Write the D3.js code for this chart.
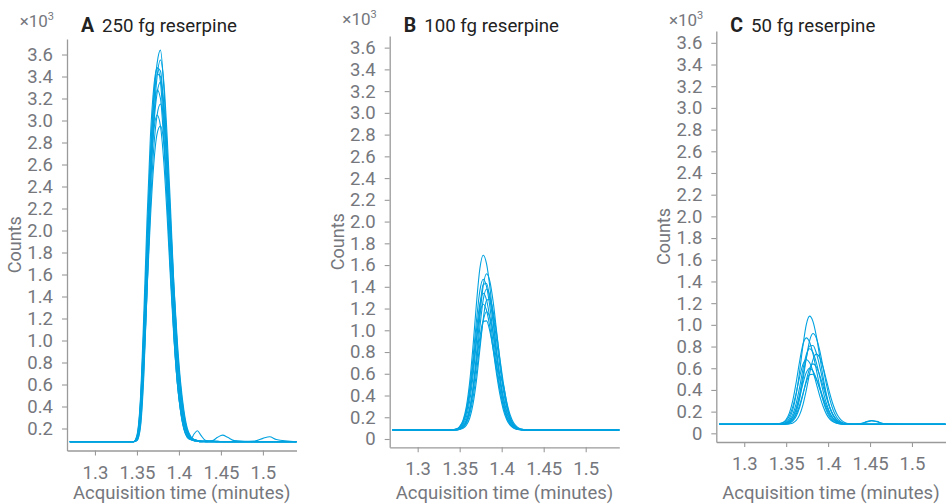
<!DOCTYPE html>
<html lang="en">
<head>
    <script src="https://d3js.org/d3.v7.min.js"></script>
</head>
<style>
    body { margin: 0; background: #fff; }
    text { font-family: Roboto, "Noto Sans", sans-serif; }
</style>
<body>
        <script>
            // chart size
            const w = 946
            const h = 504

            // acquisition times (minutes), shared by every trace
            const times = [1.270, 1.300, 1.330, 1.340,
                1.346, 1.350, 1.354, 1.358, 1.362, 1.366, 1.370, 1.374, 1.378, 1.382, 1.386,
                1.390, 1.394, 1.398, 1.402, 1.406, 1.410, 1.414, 1.418, 1.422, 1.426,
                1.432, 1.440, 1.446, 1.452, 1.458, 1.466, 1.490, 1.500, 1.508, 1.516, 1.540]

            // counts (x10^3) for the replicate injections, 250 fg
            const traces250 = [
                [0.08, 0.08, 0.08, 0.08, 0.08, 0.10, 0.28, 0.85, 1.75, 2.60, 3.20, 3.52, 3.64, 3.30, 2.70, 2.00, 1.30, 0.78, 0.44, 0.24, 0.14, 0.10, 0.09, 0.085, 0.08, 0.08, 0.085, 0.085, 0.08, 0.08, 0.08, 0.08, 0.08, 0.08, 0.08, 0.08],
                [0.08, 0.08, 0.08, 0.08, 0.08, 0.09, 0.20, 0.65, 1.45, 2.35, 3.00, 3.40, 3.55, 3.35, 2.85, 2.20, 1.50, 0.92, 0.52, 0.28, 0.16, 0.11, 0.09, 0.085, 0.08, 0.085, 0.09, 0.12, 0.14, 0.12, 0.09, 0.08, 0.08, 0.08, 0.08, 0.08],
                [0.08, 0.08, 0.08, 0.08, 0.08, 0.14, 0.45, 1.20, 2.10, 2.85, 3.30, 3.48, 3.35, 2.90, 2.30, 1.65, 1.05, 0.62, 0.36, 0.20, 0.12, 0.10, 0.15, 0.18, 0.14, 0.09, 0.085, 0.08, 0.08, 0.08, 0.08, 0.08, 0.08, 0.08, 0.08, 0.08],
                [0.08, 0.08, 0.08, 0.08, 0.08, 0.12, 0.40, 1.05, 1.90, 2.65, 3.15, 3.42, 3.40, 3.05, 2.50, 1.85, 1.22, 0.75, 0.45, 0.26, 0.16, 0.11, 0.095, 0.09, 0.085, 0.085, 0.08, 0.08, 0.08, 0.08, 0.08, 0.08, 0.08, 0.08, 0.08, 0.08],
                [0.08, 0.08, 0.08, 0.08, 0.08, 0.10, 0.30, 0.90, 1.70, 2.45, 2.95, 3.25, 3.35, 3.15, 2.70, 2.10, 1.50, 1.00, 0.62, 0.36, 0.20, 0.13, 0.10, 0.09, 0.085, 0.085, 0.085, 0.08, 0.08, 0.08, 0.08, 0.085, 0.11, 0.125, 0.10, 0.08],
                [0.08, 0.08, 0.08, 0.08, 0.08, 0.11, 0.35, 0.98, 1.80, 2.55, 3.02, 3.28, 3.20, 2.80, 2.25, 1.62, 1.05, 0.62, 0.35, 0.19, 0.12, 0.10, 0.09, 0.085, 0.08, 0.08, 0.08, 0.08, 0.08, 0.08, 0.08, 0.08, 0.08, 0.08, 0.08, 0.08],
                [0.08, 0.08, 0.08, 0.08, 0.08, 0.09, 0.22, 0.70, 1.45, 2.20, 2.75, 3.05, 3.15, 3.00, 2.60, 2.05, 1.45, 0.95, 0.58, 0.33, 0.18, 0.12, 0.10, 0.09, 0.085, 0.08, 0.08, 0.08, 0.08, 0.08, 0.08, 0.08, 0.08, 0.08, 0.08, 0.08],
                [0.08, 0.08, 0.08, 0.08, 0.08, 0.13, 0.42, 1.08, 1.85, 2.50, 2.90, 3.05, 2.95, 2.62, 2.12, 1.55, 1.02, 0.62, 0.36, 0.20, 0.13, 0.10, 0.09, 0.085, 0.08, 0.08, 0.08, 0.08, 0.08, 0.08, 0.08, 0.08, 0.08, 0.08, 0.08, 0.08],
                [0.08, 0.08, 0.08, 0.08, 0.08, 0.10, 0.26, 0.75, 1.45, 2.10, 2.60, 2.88, 2.95, 2.80, 2.40, 1.90, 1.35, 0.88, 0.54, 0.31, 0.18, 0.12, 0.10, 0.09, 0.085, 0.08, 0.08, 0.08, 0.08, 0.08, 0.08, 0.08, 0.08, 0.08, 0.08, 0.08],
                [0.08, 0.08, 0.08, 0.08, 0.08, 0.11, 0.36, 1.00, 1.85, 2.65, 3.20, 3.48, 3.45, 3.10, 2.52, 1.86, 1.22, 0.74, 0.43, 0.24, 0.15, 0.11, 0.10, 0.09, 0.085, 0.08, 0.08, 0.08, 0.08, 0.08, 0.08, 0.08, 0.08, 0.08, 0.08, 0.08]
            ]

            // 100 fg
            const traces100 = [
                [0.083, 0.083, 0.083, 0.085, 0.09, 0.115, 0.173, 0.30, 0.53, 0.866, 1.25, 1.566, 1.69, 1.61, 1.393, 1.095, 0.79, 0.53, 0.337, 0.213, 0.144, 0.109, 0.09, 0.085, 0.083, 0.083, 0.083, 0.083, 0.083, 0.083, 0.083, 0.083, 0.083, 0.083, 0.083, 0.083],
                [0.083, 0.083, 0.083, 0.083, 0.084, 0.092, 0.112, 0.163, 0.277, 0.483, 0.783, 1.126, 1.41, 1.52, 1.448, 1.254, 0.988, 0.715, 0.483, 0.31, 0.20, 0.138, 0.106, 0.092, 0.086, 0.083, 0.083, 0.083, 0.083, 0.083, 0.083, 0.083, 0.083, 0.083, 0.083, 0.083],
                [0.083, 0.083, 0.083, 0.085, 0.091, 0.111, 0.161, 0.27, 0.469, 0.758, 1.09, 1.363, 1.47, 1.401, 1.213, 0.957, 0.693, 0.469, 0.302, 0.195, 0.136, 0.105, 0.091, 0.086, 0.083, 0.083, 0.083, 0.083, 0.083, 0.083, 0.083, 0.083, 0.083, 0.083, 0.083, 0.083],
                [0.083, 0.083, 0.083, 0.084, 0.088, 0.099, 0.131, 0.204, 0.352, 0.588, 0.90, 1.208, 1.42, 1.43, 1.282, 1.061, 0.802, 0.561, 0.369, 0.238, 0.158, 0.117, 0.096, 0.088, 0.084, 0.083, 0.083, 0.083, 0.083, 0.083, 0.083, 0.083, 0.083, 0.083, 0.083, 0.083],
                [0.083, 0.083, 0.083, 0.083, 0.083, 0.091, 0.109, 0.156, 0.258, 0.444, 0.715, 1.025, 1.28, 1.38, 1.315, 1.14, 0.90, 0.654, 0.444, 0.288, 0.188, 0.132, 0.104, 0.091, 0.086, 0.083, 0.083, 0.083, 0.083, 0.083, 0.083, 0.083, 0.083, 0.083, 0.083, 0.083],
                [0.083, 0.083, 0.083, 0.085, 0.091, 0.108, 0.153, 0.253, 0.432, 0.695, 1.00, 1.243, 1.34, 1.277, 1.107, 0.875, 0.66, 0.58, 0.50, 0.33, 0.19, 0.12, 0.095, 0.087, 0.083, 0.083, 0.083, 0.083, 0.083, 0.083, 0.083, 0.083, 0.083, 0.083, 0.083, 0.083],
                [0.083, 0.083, 0.083, 0.083, 0.084, 0.088, 0.098, 0.127, 0.193, 0.326, 0.539, 0.822, 1.099, 1.276, 1.284, 1.166, 0.967, 0.733, 0.515, 0.341, 0.223, 0.151, 0.113, 0.095, 0.088, 0.084, 0.083, 0.083, 0.083, 0.083, 0.083, 0.083, 0.083, 0.083, 0.083, 0.083],
                [0.083, 0.083, 0.083, 0.085, 0.09, 0.106, 0.148, 0.239, 0.405, 0.646, 0.923, 1.151, 1.24, 1.182, 1.026, 0.812, 0.592, 0.405, 0.266, 0.177, 0.127, 0.102, 0.09, 0.085, 0.083, 0.083, 0.083, 0.083, 0.083, 0.083, 0.083, 0.083, 0.083, 0.083, 0.083, 0.083],
                [0.083, 0.083, 0.083, 0.083, 0.084, 0.09, 0.105, 0.144, 0.229, 0.385, 0.612, 0.872, 1.086, 1.17, 1.116, 0.969, 0.769, 0.561, 0.385, 0.255, 0.171, 0.124, 0.10, 0.088, 0.085, 0.083, 0.083, 0.083, 0.083, 0.083, 0.083, 0.083, 0.083, 0.083, 0.083, 0.083],
                [0.083, 0.083, 0.083, 0.084, 0.087, 0.095, 0.12, 0.175, 0.286, 0.464, 0.70, 0.932, 1.08, 1.087, 0.988, 0.821, 0.626, 0.444, 0.299, 0.20, 0.14, 0.108, 0.093, 0.087, 0.084, 0.083, 0.083, 0.083, 0.083, 0.083, 0.083, 0.083, 0.083, 0.083, 0.083, 0.083]
            ]

            // 50 fg
            const traces50 = [
                [0.083, 0.083, 0.085, 0.087, 0.089, 0.103, 0.139, 0.218, 0.36, 0.569, 0.807, 1.003, 1.08, 1.03, 0.896, 0.711, 0.522, 0.36, 0.241, 0.164, 0.121, 0.099, 0.089, 0.085, 0.083, 0.083, 0.083, 0.083, 0.083, 0.083, 0.083, 0.083, 0.083, 0.083, 0.083, 0.083],
                [0.083, 0.083, 0.083, 0.083, 0.083, 0.088, 0.10, 0.13, 0.196, 0.316, 0.491, 0.691, 0.855, 0.92, 0.878, 0.765, 0.611, 0.451, 0.316, 0.215, 0.151, 0.115, 0.096, 0.088, 0.085, 0.084, 0.09, 0.105, 0.115, 0.108, 0.09, 0.083, 0.083, 0.083, 0.083, 0.083],
                [0.083, 0.083, 0.086, 0.088, 0.099, 0.128, 0.191, 0.305, 0.471, 0.662, 0.819, 0.88, 0.84, 0.733, 0.585, 0.434, 0.305, 0.209, 0.148, 0.113, 0.096, 0.088, 0.085, 0.083, 0.083, 0.083, 0.083, 0.083, 0.083, 0.083, 0.083, 0.083, 0.083, 0.083, 0.083, 0.083],
                [0.083, 0.083, 0.083, 0.084, 0.086, 0.092, 0.11, 0.149, 0.23, 0.359, 0.53, 0.698, 0.805, 0.81, 0.739, 0.618, 0.477, 0.345, 0.239, 0.168, 0.124, 0.101, 0.09, 0.086, 0.084, 0.083, 0.083, 0.083, 0.083, 0.083, 0.083, 0.083, 0.083, 0.083, 0.083, 0.083],
                [0.083, 0.083, 0.084, 0.085, 0.087, 0.097, 0.122, 0.177, 0.277, 0.422, 0.589, 0.726, 0.78, 0.745, 0.651, 0.522, 0.39, 0.277, 0.193, 0.139, 0.109, 0.094, 0.087, 0.084, 0.083, 0.085, 0.092, 0.108, 0.118, 0.11, 0.09, 0.083, 0.083, 0.083, 0.083, 0.083],
                [0.083, 0.083, 0.083, 0.083, 0.083, 0.083, 0.087, 0.096, 0.119, 0.17, 0.263, 0.398, 0.553, 0.68, 0.73, 0.698, 0.61, 0.491, 0.368, 0.263, 0.185, 0.135, 0.108, 0.093, 0.087, 0.084, 0.083, 0.083, 0.083, 0.083, 0.083, 0.083, 0.083, 0.083, 0.083, 0.083],
                [0.083, 0.083, 0.085, 0.087, 0.095, 0.116, 0.164, 0.249, 0.374, 0.516, 0.634, 0.68, 0.65, 0.57, 0.459, 0.346, 0.249, 0.177, 0.131, 0.106, 0.093, 0.087, 0.084, 0.083, 0.083, 0.083, 0.083, 0.083, 0.083, 0.083, 0.083, 0.083, 0.083, 0.083, 0.083, 0.083],
                [0.083, 0.083, 0.083, 0.083, 0.083, 0.086, 0.094, 0.114, 0.157, 0.238, 0.354, 0.488, 0.597, 0.64, 0.612, 0.537, 0.434, 0.329, 0.238, 0.171, 0.128, 0.104, 0.092, 0.086, 0.084, 0.083, 0.083, 0.083, 0.083, 0.083, 0.083, 0.083, 0.083, 0.083, 0.083, 0.083],
                [0.083, 0.083, 0.084, 0.085, 0.086, 0.093, 0.112, 0.153, 0.227, 0.335, 0.458, 0.56, 0.60, 0.574, 0.504, 0.409, 0.31, 0.227, 0.165, 0.125, 0.103, 0.091, 0.086, 0.084, 0.083, 0.083, 0.083, 0.083, 0.083, 0.083, 0.083, 0.083, 0.083, 0.083, 0.083, 0.083],
                [0.083, 0.083, 0.083, 0.084, 0.085, 0.089, 0.10, 0.125, 0.176, 0.258, 0.366, 0.473, 0.541, 0.544, 0.499, 0.422, 0.332, 0.249, 0.182, 0.137, 0.109, 0.095, 0.088, 0.085, 0.083, 0.083, 0.083, 0.083, 0.083, 0.083, 0.083, 0.083, 0.083, 0.083, 0.083, 0.083]
            ]

            // tick labels
            const xTicks = [1.3, 1.35, 1.4, 1.45, 1.5]
            const yTicksA = [0.2, 0.4, 0.6, 0.8, 1.0, 1.2, 1.4, 1.6, 1.8, 2.0, 2.2, 2.4, 2.6, 2.8, 3.0, 3.2, 3.4, 3.6]
            const yTicksBC = [0, 0.2, 0.4, 0.6, 0.8, 1.0, 1.2, 1.4, 1.6, 1.8, 2.0, 2.2, 2.4, 2.6, 2.8, 3.0, 3.2, 3.4, 3.6]

            const letters = ["A", "B", "C"]
            const titles = ["250 fg reserpine", "100 fg reserpine", "50 fg reserpine"]

            // panel layout (pixels) and axis ranges
            const panels = [
                {traces: traces250, ticks: yTicksA,  left: 67,    right: 296.5, top: 39, bottom: 450.5, ymin: 0,       ymax: 3.741, expY: 26.5},
                {traces: traces100, ticks: yTicksBC, left: 389.7, right: 619.3, top: 36, bottom: 447.3, ymin: -0.0764, ymax: 3.707, expY: 25},
                {traces: traces50,  ticks: yTicksBC, left: 716.3, right: 945.5, top: 31, bottom: 442,   ymin: -0.080,  ymax: 3.709, expY: 26}
            ]

            const lineColor = "#00a2e0"
            const axisColor = "#9a9a9a"
            const labelColor = "#75777d"

            let svg = d3.select("body")
                .append("svg")
                .attr("width", w)
                .attr("height", h)

            panels.forEach((p, i) => {
                let g = svg.append("g")

                let xScale = d3.scaleLinear()
                    .domain([1.2667, 1.54])
                    .range([p.left, p.right])

                let yScale = d3.scaleLinear()
                    .domain([p.ymin, p.ymax])
                    .range([p.bottom, p.top])

                let line = d3.line()
                    .x((d, j) => xScale(times[j]))
                    .y(d => yScale(d))
                    .curve(d3.curveMonotoneX)

                // traces first so the axes sit on top
                g.selectAll("path.trace")
                    .data(p.traces)
                    .enter()
                    .append("path")
                    .attr("class", "trace")
                    .attr("d", line)
                    .attr("fill", "none")
                    .attr("stroke", lineColor)
                    .attr("stroke-width", 1.1)

                let xaxis = d3.axisBottom(xScale)
                    .tickValues(xTicks)
                    .tickFormat(d => String(d))
                    .tickSize(5)
                    .tickSizeOuter(0)
                    .tickPadding(10)

                let yaxis = d3.axisLeft(yScale)
                    .tickValues(p.ticks)
                    .tickFormat(d => d === 0 ? "0" : d.toFixed(1))
                    .tickSize(5)
                    .tickSizeOuter(0)
                    .tickPadding(9)

                let gx = g.append("g")
                    .attr("transform", "translate(0," + p.bottom + ")")
                    .call(xaxis)

                let gy = g.append("g")
                    .attr("transform", "translate(" + p.left + ",0)")
                    .call(yaxis)

                // style both axes
                ;[gx, gy].forEach(a => {
                    a.select(".domain").attr("stroke", axisColor).attr("stroke-width", 1.3)
                    a.selectAll(".tick line").attr("stroke", axisColor).attr("stroke-width", 1.1)
                    a.selectAll(".tick text")
                        .attr("fill", labelColor)
                        .attr("font-size", "18.5px")
                        .attr("font-family", "Roboto, sans-serif")
                })

                // x axis title
                g.append("text")
                    .attr("x", (p.left + p.right) / 2)
                    .attr("y", 498.5)
                    .attr("text-anchor", "middle")
                    .attr("fill", labelColor)
                    .attr("font-size", "18.5px")
                    .text("Acquisition time (minutes)")

                // y axis title
                g.append("text")
                    .attr("transform", "translate(" + (p.left - 46) + "," + ((p.top + p.bottom) / 2) + ") rotate(-90)")
                    .attr("text-anchor", "middle")
                    .attr("fill", labelColor)
                    .attr("font-size", "18px")
                    .text("Counts")

                // x10^3 exponent
                let ex = g.append("text")
                    .attr("x", p.left - 13)
                    .attr("y", p.expY)
                    .attr("text-anchor", "end")
                    .attr("fill", labelColor)
                    .attr("font-size", "17px")
                ex.append("tspan").text("×10")
                ex.append("tspan")
                    .attr("font-size", "11px")
                    .attr("dy", "-7")
                    .text("3")

                // panel title
                let t = g.append("text")
                    .attr("x", p.left + 14)
                    .attr("y", 31.5)
                    .attr("fill", "#222")
                    .attr("font-size", "18.7px")
                t.append("tspan")
                    .attr("font-weight", "bold")
                    .attr("font-size", "19.5px")
                    .text(letters[i])
                t.append("tspan")
                    .attr("dx", "8")
                    .text(titles[i])
            })

        </script>
    </body>
</html>
